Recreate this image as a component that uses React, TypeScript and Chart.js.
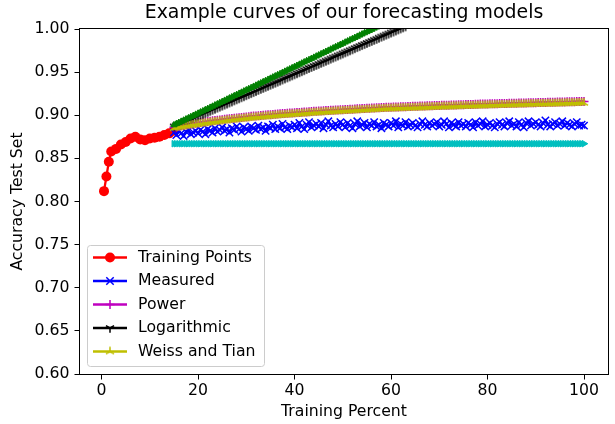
import React, { useEffect, useRef } from 'react';
import { Chart, registerables } from 'chart.js';

Chart.register(...registerables);

const FONT = '"DejaVu Sans", Verdana, sans-serif';

const titleText = 'Example curves of our forecasting models';
const xLabel = 'Training Percent';
const yLabel = 'Accuracy Test Set';
const xTicks = [0, 20, 40, 60, 80, 100];
const yTicks = [0.6, 0.65, 0.7, 0.75, 0.8, 0.85, 0.9, 0.95, 1.0];

const trainX = [0.5, 1, 1.5, 2, 3, 4, 5, 6, 7, 8, 9, 10, 11, 12, 13, 14, 15];
const trainY = [0.812, 0.829, 0.846, 0.858, 0.861, 0.866, 0.869, 0.873, 0.875, 0.872, 0.871, 0.873, 0.874, 0.875, 0.877, 0.879, 0.882];

const modelX = [
  15, 15.5, 16, 16.5, 17, 17.5, 18, 18.5, 19, 19.5,
  20, 20.5, 21, 21.5, 22, 22.5, 23, 23.5, 24, 24.5,
  25, 25.5, 26, 26.5, 27, 27.5, 28, 28.5, 29, 29.5,
  30, 30.5, 31, 31.5, 32, 32.5, 33, 33.5, 34, 34.5,
  35, 35.5, 36, 36.5, 37, 37.5, 38, 38.5, 39, 39.5,
  40, 40.5, 41, 41.5, 42, 42.5, 43, 43.5, 44, 44.5,
  45, 45.5, 46, 46.5, 47, 47.5, 48, 48.5, 49, 49.5,
  50, 50.5, 51, 51.5, 52, 52.5, 53, 53.5, 54, 54.5,
  55, 55.5, 56, 56.5, 57, 57.5, 58, 58.5, 59, 59.5,
  60, 60.5, 61, 61.5, 62, 62.5, 63, 63.5, 64, 64.5,
  65, 65.5, 66, 66.5, 67, 67.5, 68, 68.5, 69, 69.5,
  70, 70.5, 71, 71.5, 72, 72.5, 73, 73.5, 74, 74.5,
  75, 75.5, 76, 76.5, 77, 77.5, 78, 78.5, 79, 79.5,
  80, 80.5, 81, 81.5, 82, 82.5, 83, 83.5, 84, 84.5,
  85, 85.5, 86, 86.5, 87, 87.5, 88, 88.5, 89, 89.5,
  90, 90.5, 91, 91.5, 92, 92.5, 93, 93.5, 94, 94.5,
  95, 95.5, 96, 96.5, 97, 97.5, 98, 98.5, 99, 99.5,
  100,
];

const measured = [
  0.880, 0.877, 0.882, 0.879, 0.876, 0.881, 0.883, 0.878, 0.880, 0.882,
  0.879, 0.883, 0.881, 0.878, 0.884, 0.882, 0.880, 0.885, 0.881, 0.883,
  0.886, 0.882, 0.884, 0.880, 0.885, 0.883, 0.887, 0.884, 0.881, 0.886,
  0.884, 0.882, 0.887, 0.885, 0.883, 0.888, 0.884, 0.886, 0.882, 0.887,
  0.885, 0.889, 0.884, 0.887, 0.885, 0.890, 0.886, 0.884, 0.888, 0.886,
  0.889, 0.885, 0.891, 0.887, 0.884, 0.889, 0.892, 0.886, 0.888, 0.890,
  0.887, 0.891, 0.885, 0.889, 0.893, 0.888, 0.886, 0.890, 0.887, 0.892,
  0.889, 0.886, 0.891, 0.888, 0.885, 0.890, 0.893, 0.887, 0.889, 0.891,
  0.886, 0.890, 0.888, 0.892, 0.887, 0.889, 0.885, 0.891, 0.889, 0.887,
  0.891, 0.888, 0.893, 0.886, 0.890, 0.888, 0.892, 0.887, 0.889, 0.891,
  0.888, 0.886, 0.890, 0.893, 0.889, 0.887, 0.891, 0.888, 0.890, 0.892,
  0.887, 0.889, 0.893, 0.890, 0.886, 0.891, 0.889, 0.887, 0.892, 0.888,
  0.890, 0.887, 0.891, 0.889, 0.886, 0.892, 0.888, 0.890, 0.893, 0.887,
  0.889, 0.891, 0.888, 0.886, 0.890, 0.892, 0.889, 0.887, 0.891, 0.893,
  0.888, 0.890, 0.887, 0.892, 0.889, 0.886, 0.891, 0.893, 0.888, 0.890,
  0.892, 0.889, 0.887, 0.891, 0.894, 0.889, 0.887, 0.890, 0.892, 0.888,
  0.890, 0.893, 0.888, 0.891, 0.889, 0.887, 0.890, 0.892, 0.888, 0.889,
  0.888,
];

const power = [
  0.8860, 0.8866, 0.8871, 0.8877, 0.8882, 0.8887, 0.8892, 0.8897, 0.8902, 0.8907,
  0.8911, 0.8915, 0.8919, 0.8923, 0.8927, 0.8931, 0.8935, 0.8939, 0.8942, 0.8946,
  0.8949, 0.8953, 0.8956, 0.8960, 0.8963, 0.8966, 0.8969, 0.8972, 0.8975, 0.8978,
  0.8981, 0.8984, 0.8987, 0.8990, 0.8992, 0.8995, 0.8997, 0.9000, 0.9002, 0.9005,
  0.9007, 0.9010, 0.9012, 0.9015, 0.9017, 0.9019, 0.9021, 0.9023, 0.9025, 0.9027,
  0.9029, 0.9031, 0.9033, 0.9035, 0.9037, 0.9039, 0.9041, 0.9043, 0.9045, 0.9047,
  0.9048, 0.9050, 0.9052, 0.9054, 0.9055, 0.9057, 0.9059, 0.9061, 0.9062, 0.9064,
  0.9065, 0.9067, 0.9068, 0.9070, 0.9071, 0.9073, 0.9074, 0.9076, 0.9077, 0.9079,
  0.9080, 0.9082, 0.9083, 0.9085, 0.9086, 0.9088, 0.9089, 0.9091, 0.9092, 0.9093,
  0.9094, 0.9095, 0.9096, 0.9097, 0.9098, 0.9099, 0.9100, 0.9101, 0.9102, 0.9103,
  0.9104, 0.9105, 0.9106, 0.9107, 0.9108, 0.9109, 0.9110, 0.9111, 0.9112, 0.9113,
  0.9114, 0.9115, 0.9116, 0.9117, 0.9117, 0.9118, 0.9119, 0.9120, 0.9121, 0.9122,
  0.9123, 0.9124, 0.9124, 0.9125, 0.9126, 0.9127, 0.9128, 0.9129, 0.9129, 0.9130,
  0.9131, 0.9132, 0.9133, 0.9134, 0.9134, 0.9135, 0.9136, 0.9137, 0.9137, 0.9138,
  0.9139, 0.9140, 0.9140, 0.9141, 0.9142, 0.9143, 0.9143, 0.9144, 0.9145, 0.9146,
  0.9146, 0.9147, 0.9148, 0.9149, 0.9149, 0.9150, 0.9150, 0.9151, 0.9152, 0.9153,
  0.9153, 0.9154, 0.9155, 0.9156, 0.9156, 0.9157, 0.9157, 0.9158, 0.9159, 0.9160,
  0.9160,
];

const logarithmic = [
  0.8870, 0.8882, 0.8894, 0.8906, 0.8918, 0.8930, 0.8943, 0.8955, 0.8967, 0.8979,
  0.8991, 0.9003, 0.9015, 0.9027, 0.9039, 0.9052, 0.9064, 0.9076, 0.9088, 0.9100,
  0.9112, 0.9124, 0.9136, 0.9148, 0.9160, 0.9173, 0.9185, 0.9197, 0.9209, 0.9221,
  0.9233, 0.9245, 0.9257, 0.9269, 0.9281, 0.9294, 0.9306, 0.9318, 0.9330, 0.9342,
  0.9354, 0.9366, 0.9378, 0.9390, 0.9402, 0.9415, 0.9427, 0.9439, 0.9451, 0.9463,
  0.9475, 0.9487, 0.9499, 0.9511, 0.9523, 0.9536, 0.9548, 0.9560, 0.9572, 0.9584,
  0.9596, 0.9608, 0.9620, 0.9632, 0.9644, 0.9657, 0.9669, 0.9681, 0.9693, 0.9705,
  0.9717, 0.9729, 0.9741, 0.9753, 0.9765, 0.9778, 0.9790, 0.9802, 0.9814, 0.9826,
  0.9838, 0.9850, 0.9862, 0.9874, 0.9886, 0.9899, 0.9911, 0.9923, 0.9935, 0.9947,
  0.9959, 0.9971, 0.9983, 0.9995, 1.0007, 1.0019, 1.0031,
];

const weissTian = [
  0.8850, 0.8855, 0.8860, 0.8865, 0.8870, 0.8875, 0.8879, 0.8884, 0.8888, 0.8892,
  0.8896, 0.8900, 0.8904, 0.8908, 0.8912, 0.8916, 0.8919, 0.8923, 0.8926, 0.8930,
  0.8933, 0.8937, 0.8940, 0.8944, 0.8947, 0.8950, 0.8953, 0.8956, 0.8959, 0.8962,
  0.8965, 0.8968, 0.8971, 0.8974, 0.8976, 0.8979, 0.8981, 0.8984, 0.8986, 0.8989,
  0.8991, 0.8994, 0.8996, 0.8999, 0.9001, 0.9003, 0.9005, 0.9007, 0.9009, 0.9011,
  0.9013, 0.9015, 0.9017, 0.9019, 0.9021, 0.9023, 0.9025, 0.9027, 0.9029, 0.9031,
  0.9032, 0.9034, 0.9036, 0.9038, 0.9039, 0.9041, 0.9043, 0.9045, 0.9046, 0.9048,
  0.9049, 0.9051, 0.9052, 0.9054, 0.9055, 0.9057, 0.9058, 0.9060, 0.9061, 0.9063,
  0.9064, 0.9066, 0.9067, 0.9069, 0.9070, 0.9072, 0.9073, 0.9075, 0.9076, 0.9077,
  0.9078, 0.9079, 0.9080, 0.9081, 0.9082, 0.9083, 0.9084, 0.9085, 0.9086, 0.9087,
  0.9088, 0.9089, 0.9090, 0.9091, 0.9092, 0.9093, 0.9094, 0.9095, 0.9096, 0.9097,
  0.9098, 0.9099, 0.9100, 0.9101, 0.9101, 0.9102, 0.9103, 0.9104, 0.9105, 0.9106,
  0.9107, 0.9108, 0.9108, 0.9109, 0.9110, 0.9111, 0.9112, 0.9113, 0.9113, 0.9114,
  0.9115, 0.9116, 0.9117, 0.9118, 0.9118, 0.9119, 0.9120, 0.9121, 0.9121, 0.9122,
  0.9123, 0.9124, 0.9124, 0.9125, 0.9126, 0.9127, 0.9127, 0.9128, 0.9129, 0.9130,
  0.9130, 0.9131, 0.9132, 0.9133, 0.9133, 0.9134, 0.9134, 0.9135, 0.9136, 0.9137,
  0.9137, 0.9138, 0.9139, 0.9140, 0.9140, 0.9141, 0.9141, 0.9142, 0.9143, 0.9144,
  0.9144,
];

const greenCurve = [
  0.8887, 0.8901, 0.8914, 0.8928, 0.8941, 0.8955, 0.8968, 0.8982, 0.8995, 0.9009,
  0.9022, 0.9036, 0.9049, 0.9063, 0.9076, 0.9090, 0.9103, 0.9117, 0.9130, 0.9144,
  0.9157, 0.9171, 0.9184, 0.9198, 0.9211, 0.9225, 0.9238, 0.9252, 0.9265, 0.9279,
  0.9292, 0.9306, 0.9319, 0.9333, 0.9346, 0.9360, 0.9373, 0.9387, 0.9400, 0.9414,
  0.9427, 0.9441, 0.9454, 0.9468, 0.9481, 0.9495, 0.9508, 0.9522, 0.9535, 0.9549,
  0.9562, 0.9576, 0.9589, 0.9603, 0.9616, 0.9630, 0.9643, 0.9657, 0.9670, 0.9684,
  0.9697, 0.9711, 0.9724, 0.9738, 0.9751, 0.9765, 0.9778, 0.9792, 0.9805, 0.9819,
  0.9832, 0.9846, 0.9859, 0.9873, 0.9886, 0.9900, 0.9913, 0.9927, 0.9940, 0.9954,
  0.9967, 0.9981, 0.9994, 1.0008, 1.0021, 1.0035, 1.0048,
];

const cyanCurve = [
  0.867, 0.867, 0.867, 0.867, 0.867, 0.867, 0.867, 0.867, 0.867, 0.867,
  0.867, 0.867, 0.867, 0.867, 0.867, 0.867, 0.867, 0.867, 0.867, 0.867,
  0.867, 0.867, 0.867, 0.867, 0.867, 0.867, 0.867, 0.867, 0.867, 0.867,
  0.867, 0.867, 0.867, 0.867, 0.867, 0.867, 0.867, 0.867, 0.867, 0.867,
  0.867, 0.867, 0.867, 0.867, 0.867, 0.867, 0.867, 0.867, 0.867, 0.867,
  0.867, 0.867, 0.867, 0.867, 0.867, 0.867, 0.867, 0.867, 0.867, 0.867,
  0.867, 0.867, 0.867, 0.867, 0.867, 0.867, 0.867, 0.867, 0.867, 0.867,
  0.867, 0.867, 0.867, 0.867, 0.867, 0.867, 0.867, 0.867, 0.867, 0.867,
  0.867, 0.867, 0.867, 0.867, 0.867, 0.867, 0.867, 0.867, 0.867, 0.867,
  0.867, 0.867, 0.867, 0.867, 0.867, 0.867, 0.867, 0.867, 0.867, 0.867,
  0.867, 0.867, 0.867, 0.867, 0.867, 0.867, 0.867, 0.867, 0.867, 0.867,
  0.867, 0.867, 0.867, 0.867, 0.867, 0.867, 0.867, 0.867, 0.867, 0.867,
  0.867, 0.867, 0.867, 0.867, 0.867, 0.867, 0.867, 0.867, 0.867, 0.867,
  0.867, 0.867, 0.867, 0.867, 0.867, 0.867, 0.867, 0.867, 0.867, 0.867,
  0.867, 0.867, 0.867, 0.867, 0.867, 0.867, 0.867, 0.867, 0.867, 0.867,
  0.867, 0.867, 0.867, 0.867, 0.867, 0.867, 0.867, 0.867, 0.867, 0.867,
  0.867, 0.867, 0.867, 0.867, 0.867, 0.867, 0.867, 0.867, 0.867, 0.867,
  0.867,
];

const legendLabels = ['Training Points', 'Measured', 'Power', 'Logarithmic', 'Weiss and Tian'];

const RED = '#ff0000';
const BLUE = '#0000ff';
const MAGENTA = '#bf00bf';
const BLACK = '#000000';
const YELLOW = '#bfbf00';
const GREEN = '#008000';
const CYAN = '#00bfbf';

const FS = 15.7;
const TITLE_FS = 18.9;
const LW = 2.3;

function pairs(xs: number[], ys: number[]) {
  return ys.map((y, i) => ({ x: xs[i], y }));
}

function makeTri(color: string, down: boolean, r: number): HTMLCanvasElement {
  const s = Math.ceil(r * 2 + 4);
  const c = document.createElement('canvas');
  c.width = s;
  c.height = s;
  const ctx = c.getContext('2d')!;
  const cx = s / 2;
  const cy = s / 2;
  ctx.strokeStyle = color;
  ctx.lineWidth = 1.5;
  const angles = down ? [90, 210, 330] : [270, 30, 150];
  ctx.beginPath();
  for (const a of angles) {
    const rad = (a * Math.PI) / 180;
    ctx.moveTo(cx, cy);
    ctx.lineTo(cx + Math.cos(rad) * r, cy + Math.sin(rad) * r);
  }
  ctx.stroke();
  return c;
}

export default function App() {
  const ref = useRef<HTMLCanvasElement>(null);

  useEffect(() => {
    const canvas = ref.current;
    if (!canvas) return;
    const triDown = makeTri(BLACK, true, 4.7);
    const triUp = makeTri(YELLOW, false, 4.7);

    const framePlugin = {
      id: 'frame',
      afterDatasetsDraw(chart: any) {
        const { ctx, chartArea: a } = chart;
        ctx.save();
        ctx.strokeStyle = '#000';
        ctx.lineWidth = 1;
        ctx.strokeRect(Math.round(a.left) - 0.5, Math.round(a.top) - 0.5, Math.round(a.right - a.left) + 1, Math.round(a.bottom - a.top) + 1);
        ctx.fillStyle = '#000';
        ctx.font = `${TITLE_FS}px ${FONT}`;
        ctx.textAlign = 'center';
        ctx.textBaseline = 'middle';
        ctx.fillText(titleText, (a.left + a.right) / 2, a.top - 16);
        ctx.restore();
      },
    };

    const legendPlugin = {
      id: 'mplLegend',
      afterDraw(chart: any) {
        const { ctx, chartArea: a } = chart;
        const left = a.left + 7.5;
        const bottom = a.bottom - 7.5;
        const w = 177;
        const h = 121;
        const top = bottom - h;
        ctx.save();
        ctx.beginPath();
        const rr = 3;
        ctx.moveTo(left + rr, top);
        ctx.lineTo(left + w - rr, top);
        ctx.quadraticCurveTo(left + w, top, left + w, top + rr);
        ctx.lineTo(left + w, bottom - rr);
        ctx.quadraticCurveTo(left + w, bottom, left + w - rr, bottom);
        ctx.lineTo(left + rr, bottom);
        ctx.quadraticCurveTo(left, bottom, left, bottom - rr);
        ctx.lineTo(left, top + rr);
        ctx.quadraticCurveTo(left, top, left + rr, top);
        ctx.closePath();
        ctx.fillStyle = 'rgba(255,255,255,0.8)';
        ctx.fill();
        ctx.strokeStyle = '#cccccc';
        ctx.lineWidth = 1;
        ctx.stroke();

        const colors = [RED, BLUE, MAGENTA, BLACK, YELLOW];
        const x0 = left + 5.5;
        const x1 = left + 39.5;
        const mx = (x0 + x1) / 2;
        ctx.font = `${FS}px ${FONT}`;
        ctx.textBaseline = 'middle';
        ctx.textAlign = 'left';
        legendLabels.forEach((label, i) => {
          const y = top + 12 + i * 23.5;
          ctx.strokeStyle = colors[i];
          ctx.lineWidth = LW;
          ctx.beginPath();
          ctx.moveTo(x0, y);
          ctx.lineTo(x1, y);
          ctx.stroke();
          ctx.lineWidth = 1.5;
          if (i === 0) {
            ctx.fillStyle = RED;
            ctx.beginPath();
            ctx.arc(mx, y, 5, 0, Math.PI * 2);
            ctx.fill();
          } else if (i === 1) {
            ctx.beginPath();
            ctx.moveTo(mx - 3.7, y - 3.7);
            ctx.lineTo(mx + 3.7, y + 3.7);
            ctx.moveTo(mx - 3.7, y + 3.7);
            ctx.lineTo(mx + 3.7, y - 3.7);
            ctx.stroke();
          } else if (i === 2) {
            ctx.beginPath();
            ctx.moveTo(mx - 4.5, y);
            ctx.lineTo(mx + 4.5, y);
            ctx.moveTo(mx, y - 4.5);
            ctx.lineTo(mx, y + 4.5);
            ctx.stroke();
          } else if (i === 3) {
            ctx.drawImage(triDown, mx - triDown.width / 2, y - triDown.height / 2);
          } else {
            ctx.drawImage(triUp, mx - triUp.width / 2, y - triUp.height / 2);
          }
          ctx.fillStyle = '#000';
          ctx.fillText(label, left + 50.5, y);
        });
        ctx.restore();
      },
    };

    const tickFont = { family: FONT, size: FS };

    const chart = new Chart(canvas, {
      type: 'line',
      data: {
        datasets: [
          {
            label: legendLabels[0],
            data: pairs(trainX, trainY),
            borderColor: RED,
            backgroundColor: RED,
            borderWidth: LW,
            pointStyle: 'circle',
            pointRadius: 5,
            pointBorderWidth: 0,
            pointBackgroundColor: RED,
            order: 7,
          },
          {
            label: legendLabels[1],
            data: pairs(modelX, measured),
            borderColor: BLUE,
            borderWidth: LW,
            pointStyle: 'crossRot',
            pointRadius: 5.2,
            pointBorderWidth: 1.5,
            pointBorderColor: BLUE,
            order: 6,
          },
          {
            label: legendLabels[2],
            data: pairs(modelX, power),
            borderColor: MAGENTA,
            borderWidth: LW,
            pointStyle: 'cross',
            pointRadius: 4.5,
            pointBorderWidth: 1.5,
            pointBorderColor: MAGENTA,
            order: 5,
          },
          {
            label: legendLabels[3],
            data: pairs(modelX, logarithmic),
            borderColor: BLACK,
            borderWidth: LW,
            pointStyle: triDown as any,
            pointRadius: 4.7,
            order: 4,
          },
          {
            label: legendLabels[4],
            data: pairs(modelX, weissTian),
            borderColor: YELLOW,
            borderWidth: LW,
            pointStyle: triUp as any,
            pointRadius: 4.7,
            order: 3,
          },
          {
            label: 'extra-green',
            data: pairs(modelX, greenCurve),
            borderColor: GREEN,
            borderWidth: LW,
            pointStyle: 'triangle',
            pointRadius: 3.6,
            pointBorderWidth: 1,
            pointBorderColor: GREEN,
            pointBackgroundColor: GREEN,
            order: 2,
          },
          {
            label: 'extra-cyan',
            data: pairs(modelX, cyanCurve),
            borderColor: CYAN,
            borderWidth: LW,
            pointStyle: 'triangle',
            pointRotation: 90,
            pointRadius: 3.8,
            pointBorderWidth: 1,
            pointBorderColor: CYAN,
            pointBackgroundColor: CYAN,
            order: 1,
          },
        ],
      },
      options: {
        animation: false,
        responsive: false,
        devicePixelRatio: 1,
        events: [],
        layout: { padding: { left: 0, right: 5, top: 29, bottom: 0 } },
        elements: { line: { tension: 0 } },
        plugins: {
          legend: { display: false },
          tooltip: { enabled: false },
          title: { display: false },
        },
        scales: {
          x: {
            type: 'linear',
            min: -4.475,
            max: 104.975,
            afterBuildTicks: (s: any) => {
              s.ticks = xTicks.map((v) => ({ value: v }));
            },
            afterFit: (s: any) => {
              s.height = 50;
            },
            ticks: {
              color: '#000',
              font: tickFont,
              padding: 2,
              maxRotation: 0,
              autoSkip: false,
              callback: (v: any) => String(v),
            },
            grid: {
              display: true,
              drawOnChartArea: false,
              drawTicks: true,
              tickLength: 5.5,
              color: '#000',
              lineWidth: 1,
            },
            border: { display: false },
            title: {
              display: true,
              text: xLabel,
              color: '#000',
              font: { family: FONT, size: FS },
              padding: { top: 0, bottom: 2.6 },
            },
          },
          y: {
            type: 'linear',
            min: 0.6,
            max: 1.0,
            afterBuildTicks: (s: any) => {
              s.ticks = yTicks.map((v) => ({ value: v }));
            },
            afterFit: (s: any) => {
              s.width = 80;
            },
            ticks: {
              color: '#000',
              font: tickFont,
              padding: 5,
              autoSkip: false,
              callback: (v: any) => Number(v).toFixed(2),
            },
            grid: {
              display: true,
              drawOnChartArea: false,
              drawTicks: true,
              tickLength: 5.5,
              color: '#000',
              lineWidth: 1,
            },
            border: { display: false },
            title: {
              display: true,
              text: yLabel,
              color: '#000',
              font: { family: FONT, size: FS },
              padding: { top: 9, bottom: 0 },
            },
          },
        },
      },
      plugins: [framePlugin, legendPlugin],
    } as any);

    return () => {
      chart.destroy();
    };
  }, []);

  return (
    <div style={{ position: 'fixed', left: 0, top: 0, width: 615, height: 424, background: '#fff' }}>
      <canvas ref={ref} width={615} height={424} style={{ display: 'block', width: 615, height: 424 }} />
    </div>
  );
}
